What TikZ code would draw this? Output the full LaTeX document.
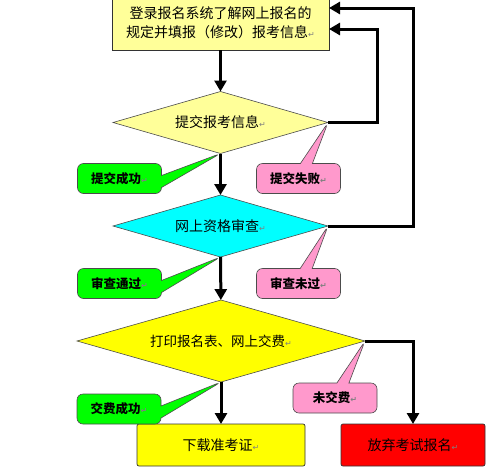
\documentclass[tikz,border=0pt]{standalone}
\usepackage{fontspec}
\setmainfont{Noto Sans CJK SC}
\newfontfamily\markfont{DejaVu Sans}
\usetikzlibrary{arrows.meta, shapes.geometric, shapes.callouts, calc}
\definecolor{paleyellow}{RGB}{255,255,153}
\definecolor{tagpink}{RGB}{255,153,204}
\definecolor{checkcyan}{RGB}{0,255,255}
\definecolor{payyellow}{RGB}{255,255,0}
\definecolor{quitred}{RGB}{255,0,0}
\definecolor{okgreen}{RGB}{0,255,0}
\newcommand{\retmark}{{\markfont\fontsize{8}{8}\selectfont\color{gray}↵}}

\begin{document}
\begin{tikzpicture}[x=1pt,y=-1pt]
\tikzset{box/.style = {draw=black!80, line width=0.7pt, inner sep=0pt, outer sep=0pt, align=center, font=\fontsize{14}{19}\selectfont},
  decision/.style = {diamond, draw=black!70, line width=0.6pt, aspect=3.5, inner sep=0pt, outer sep=0pt, font=\fontsize{14}{17}\selectfont},
  tag/.style = {rectangle callout, draw=black!70, line width=0.6pt, rounded corners=6pt, callout pointer width=12pt, minimum width=84pt, minimum height=30pt, inner sep=0pt, font=\fontsize{12.5}{14}\selectfont\bfseries},
  flow/.style = {line width=3pt, -{Triangle[length=11pt,width=12pt]}}}
\useasboundingbox (0,0) rectangle (486,474);
% steps
\node[box, fill=paleyellow, minimum width=217pt, minimum height=54pt] (reg) at (220.5,23) {登录报名系统了解网上报名的\\规定并填报（修改）报考信息\retmark};
\node[decision, fill=paleyellow, minimum width=215pt, minimum height=62pt] (submit) at (220.5,122.5) {提交报考信息\retmark};
\node[decision, fill=checkcyan, minimum width=215pt, minimum height=62pt] (check) at (220.5,226) {网上资格审查\retmark};
\node[decision, fill=payyellow, minimum width=288pt, minimum height=82pt, font=\fontsize{13.5}{16}\selectfont] (pay) at (221,341) {打印报名表、网上交费\retmark};
\node[box, fill=payyellow, minimum width=168pt, minimum height=42pt, rounded corners=2pt] (ticket) at (221,445) {下载准考证\retmark};
\node[box, fill=quitred, minimum width=144pt, minimum height=42pt, rounded corners=2pt] (quit) at (413,445) {放弃考试报名\retmark};

%edges
\draw[flow] (reg) -- (submit);
\draw[flow] (submit) -- (check);
\draw[flow] (check) -- (pay);
\draw[flow] (pay) -- (ticket);
\draw[flow] (pay.east) -| (quit);
\draw[flow] (submit.east) -- ++(49,0) |- ($(reg.north east)+(0,33)$);
\draw[flow] (check.east) -- ++(85,0) |- ($(reg.north east)+(0,12)$);

% callouts
\node[tag, fill=okgreen, callout absolute pointer={(submit.south)}] (subok) at (119.5,178.5) {提交成功\retmark};
\node[tag, fill=tagpink, callout absolute pointer={(submit.east)}] (subfail) at (298.5,178.5) {提交失败\retmark};
\node[tag, fill=okgreen, callout absolute pointer={(check.south)}] (checkok) at (119.5,283.5) {审查通过\retmark};
\node[tag, fill=tagpink, callout absolute pointer={(check.east)}] (checkfail) at (298.5,283.5) {审查未过\retmark};
\node[tag, fill=okgreen, callout absolute pointer={(pay.south)}] (payok) at (119,409) {交费成功\retmark};
\node[tag, fill=tagpink, callout absolute pointer={(pay.east)}] (nopay) at (335,398) {未交费\retmark};
\end{tikzpicture}
\end{document}
